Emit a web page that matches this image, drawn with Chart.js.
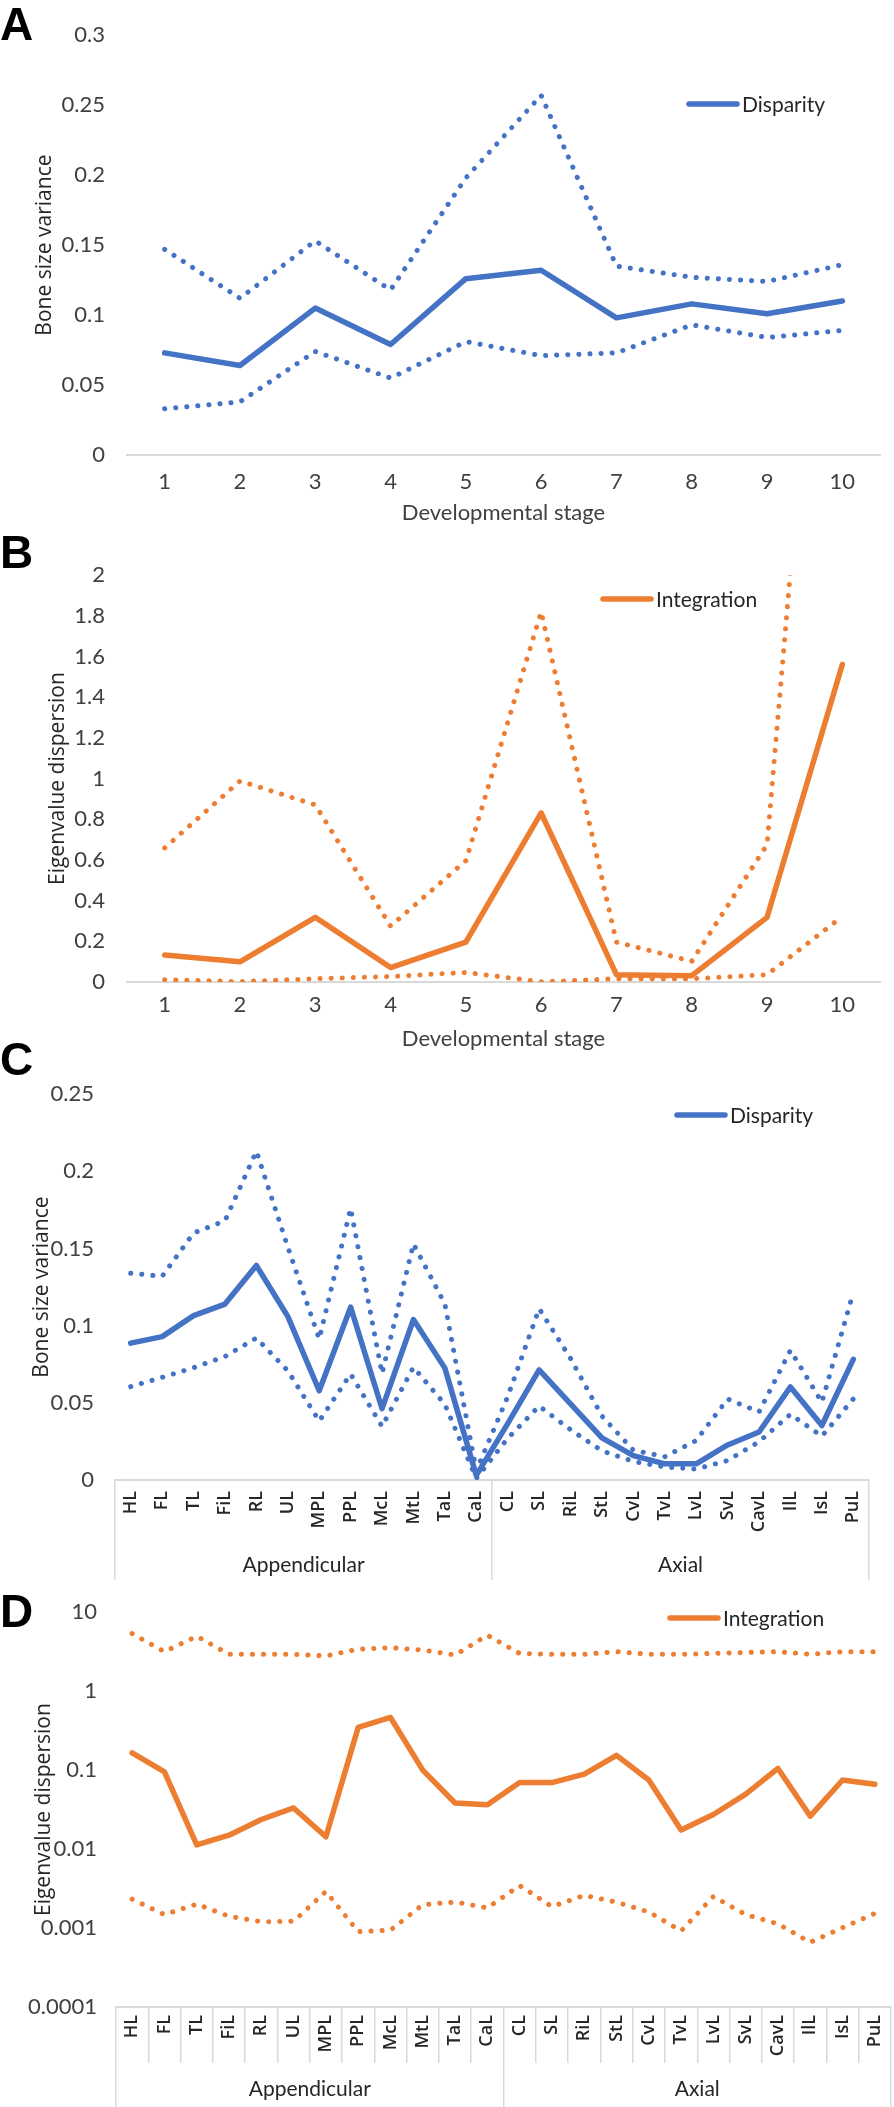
<!DOCTYPE html>
<html>
<head>
<meta charset="utf-8">
<title>Disparity and integration by stage and bone</title>
<script src="https://cdn.jsdelivr.net/npm/chart.js@4.4.1/dist/chart.umd.min.js"></script>
<style>
  body { margin: 0; background: #fff; }
  #page { position: relative; width: 894px; height: 2107px; overflow: hidden; }
  #page canvas { position: absolute; left: 0; }
  .panel {
    position: absolute; left: 0; z-index: 2;
    font-family: "Liberation Sans", Arial, sans-serif;
    font-weight: bold; font-size: 46px; line-height: 1; color: #000;
  }
</style>
</head>
<body>
<div id="page">
  <canvas id="chartA" width="894" height="540" style="top:0px"></canvas>
  <canvas id="chartB" width="894" height="520" style="top:540px"></canvas>
  <canvas id="chartC" width="894" height="520" style="top:1060px"></canvas>
  <canvas id="chartD" width="894" height="527" style="top:1580px"></canvas>
  <div class="panel" style="top:1px">A</div>
  <div class="panel" style="top:529px">B</div>
  <div class="panel" style="top:1036px">C</div>
  <div class="panel" style="top:1588px">D</div>
</div>
<script>
// --- data ---
const stages = ['1', '2', '3', '4', '5', '6', '7', '8', '9', '10'];

const stageDisparity = [0.073, 0.064, 0.105, 0.079, 0.126, 0.132, 0.098, 0.108, 0.101, 0.110];
const stageDisparityUpper = [0.147, 0.112, 0.153, 0.118, 0.198, 0.257, 0.135, 0.127, 0.124, 0.136];
const stageDisparityLower = [0.033, 0.038, 0.074, 0.055, 0.081, 0.071, 0.073, 0.093, 0.084, 0.089];

const stageIntegration = [0.133, 0.099, 0.318, 0.071, 0.196, 0.831, 0.036, 0.031, 0.318, 1.561];
const stageIntegrationUpper = [0.659, 0.988, 0.871, 0.275, 0.596, 1.82, 0.196, 0.102, 0.675, 5.0];
const stageIntegrationLower = [0.011, 0.002, 0.016, 0.027, 0.047, 0.001, 0.016, 0.016, 0.036, 0.322];

const bones = ['HL', 'FL', 'TL', 'FiL', 'RL', 'UL', 'MPL', 'PPL', 'McL', 'MtL', 'TaL', 'CaL',
               'CL', 'SL', 'RiL', 'StL', 'CvL', 'TvL', 'LvL', 'SvL', 'CavL', 'IlL', 'IsL', 'PuL'];
const boneGroups = ['Appendicular', 'Axial'];

const boneDisparity = [0.0887, 0.0929, 0.1065, 0.114, 0.139, 0.106, 0.0578, 0.112, 0.0462, 0.104, 0.0725, 0.003,
                       0.0365, 0.0714, 0.0494, 0.0273, 0.0158, 0.0105, 0.0105, 0.0227, 0.0311, 0.0603, 0.0353, 0.0782];
const boneDisparityUpper = [0.134, 0.132, 0.160, 0.168, 0.213, 0.151, 0.0914, 0.176, 0.069, 0.153, 0.114, 0.006,
                            0.054, 0.111, 0.0788, 0.0414, 0.0193, 0.0151, 0.0256, 0.0525, 0.0441, 0.084, 0.0504, 0.1215];
const boneDisparityLower = [0.0605, 0.0665, 0.0727, 0.080, 0.092, 0.0708, 0.0382, 0.0687, 0.0347, 0.0731, 0.049, 0.001,
                            0.027, 0.0479, 0.0326, 0.0189, 0.012, 0.0084, 0.0071, 0.0126, 0.0248, 0.0426, 0.0284, 0.0525];

const boneIntegration = [0.165, 0.095, 0.0113, 0.015, 0.0237, 0.0332, 0.0143, 0.348, 0.464, 0.100, 0.0383, 0.0365,
                         0.0695, 0.0695, 0.089, 0.154, 0.075, 0.0174, 0.0274, 0.0497, 0.105, 0.0261, 0.075, 0.0662];
const boneIntegrationUpper = [5.36, 3.16, 4.96, 2.93, 2.93, 2.93, 2.79, 3.41, 3.55, 3.32, 2.87, 5.11,
                              3.01, 2.93, 2.93, 3.16, 2.93, 2.93, 3.01, 3.09, 3.16, 2.93, 3.16, 3.16];
const boneIntegrationLower = [0.00232, 0.00148, 0.00201, 0.00141, 0.0012, 0.00122, 0.0029, 0.0009, 0.00094, 0.00198, 0.00213, 0.0018,
                              0.00345, 0.00187, 0.00259, 0.00213, 0.0016, 0.00092, 0.00251, 0.00148, 0.00113, 0.00066, 0.00101, 0.00153];

const logTicks = [0.0001, 0.001, 0.01, 0.1, 1, 10];

// --- look ---
const blue = '#4472C4';
const orange = '#ED7D31';
const axisGrey = '#D9D9D9';
const tickColor = '#404040';

Chart.defaults.font.family = 'Lato, sans-serif';
Chart.defaults.font.size = 20;
Chart.defaults.color = tickColor;

const numFont = { size: 22 };
const yTitleFont = { family: '"Open Sans", sans-serif', size: 21 };
const catFont = { family: '"Open Sans", sans-serif', size: 18, weight: '600' };

// draws the single legend entry (solid series only) inside the plot
const insideLegend = {
  id: 'insideLegend',
  afterDatasetsDraw(chart, args, opts) {
    const ds = chart.data.datasets[0];
    const ctx = chart.ctx;
    ctx.save();
    ctx.strokeStyle = ds.borderColor;
    ctx.lineWidth = ds.borderWidth;
    ctx.lineCap = 'round';
    ctx.beginPath();
    ctx.moveTo(opts.x, opts.y);
    ctx.lineTo(opts.x + 48, opts.y);
    ctx.stroke();
    ctx.font = '21px Lato, sans-serif';
    ctx.fillStyle = '#262626';
    ctx.textBaseline = 'middle';
    ctx.fillText(ds.label, opts.x + 53, opts.y + 1);
    ctx.restore();
  }
};

function series(label, color, main, upper, lower) {
  const dotted = {
    borderColor: color, borderWidth: 5, borderDash: [0.1, 11], borderCapStyle: 'round',
    pointRadius: 0, fill: false, tension: 0
  };
  return [
    { label: label, data: main, borderColor: color, borderWidth: 5.5, borderCapStyle: 'round',
      borderJoinStyle: 'round', pointRadius: 0, fill: false, tension: 0 },
    Object.assign({ label: label + ' upper', data: upper }, dotted),
    Object.assign({ label: label + ' lower', data: lower }, dotted)
  ];
}

const plainNum = v => String(+Number(v).toFixed(4));

function yAxis(min, max, step, title, width, pad, titlePad) {
  return {
    min: min, max: max,
    grid: { display: false, drawTicks: false },
    border: { display: false },
    ticks: { stepSize: step, padding: pad, callback: plainNum, color: tickColor, font: numFont },
    title: { display: true, text: title, font: yTitleFont, color: '#262626', padding: { top: titlePad, bottom: 0 } },
    afterFit: s => { s.width = width; }
  };
}

function stageXAxis(height, tickPad, titlePad) {
  return {
    offset: true,
    grid: { display: false, drawTicks: false },
    border: { color: axisGrey, width: 2 },
    ticks: { padding: tickPad, maxRotation: 0, autoSkip: false, color: tickColor, font: numFont },
    title: { display: true, text: 'Developmental stage', font: { size: 22 }, color: tickColor, padding: { top: 0, bottom: titlePad } },
    afterFit: s => { s.height = height; }
  };
}

function boneXAxes(height, tickPad, groupHeight, groupPad, everyLine) {
  return {
    x: {
      offset: true,
      grid: {
        display: true, drawOnChartArea: false, drawTicks: true, tickLength: height, offset: true, lineWidth: 1.5,
        color: ctx => (everyLine || ctx.type !== 'tick' || ctx.index % 12 === 0) ? axisGrey : 'rgba(0,0,0,0)'
      },
      border: { color: axisGrey, width: 2 },
      ticks: { autoSkip: false, minRotation: 90, maxRotation: 90, padding: tickPad, font: catFont, color: '#262626' },
      afterFit: s => { s.height = height; }
    },
    x2: {
      type: 'category', labels: boneGroups, offset: true, position: 'bottom', weight: 1,
      grid: { display: true, drawOnChartArea: false, drawTicks: true, tickLength: groupHeight, offset: true, lineWidth: 1.5, color: axisGrey },
      border: { display: false },
      ticks: { padding: groupPad, maxRotation: 0, autoSkip: false, color: '#262626', font: { size: 21 } },
      afterFit: s => { s.height = groupHeight; }
    }
  };
}

function makeChart(id, labels, datasets, padding, scales, legendAt) {
  return new Chart(document.getElementById(id), {
    type: 'line',
    data: { labels: labels, datasets: datasets },
    options: {
      responsive: false,
      animation: false,
      devicePixelRatio: 1,
      layout: { padding: padding },
      plugins: { legend: { display: false }, tooltip: { enabled: false }, insideLegend: legendAt },
      scales: scales
    },
    plugins: [insideLegend]
  });
}

// A
makeChart('chartA', stages,
  series('Disparity', blue, stageDisparity, stageDisparityUpper, stageDisparityLower),
  { left: 0, right: 14, top: 32, bottom: 0 },
  { x: stageXAxis(85, 14, 13.8), y: yAxis(0, 0.3, 0.05, 'Bone size variance', 127, 22, 32.4) },
  { x: 689, y: 104 });

// B
makeChart('chartB', stages,
  series('Integration', orange, stageIntegration, stageIntegrationUpper, stageIntegrationLower),
  { left: 0, right: 14, top: 17, bottom: 0 },
  { x: stageXAxis(78, 10, 7.8), y: yAxis(0, 2, 0.2, 'Eigenvalue dispersion', 127, 22, 45) },
  { x: 603, y: 59 });

// C
makeChart('chartC', bones,
  series('Disparity', blue, boneDisparity, boneDisparityUpper, boneDisparityLower),
  { left: 0, right: 25, top: 23, bottom: 0 },
  Object.assign(boneXAxes(60, -49, 40, -27, false),
    { y: yAxis(0, 0.25, 0.05, 'Bone size variance', 115, 21, 29) }),
  { x: 677, y: 55 });

// D
const dY = yAxis(0.0001, 10, null, 'Eigenvalue dispersion', 116, 19, 31);
dY.type = 'logarithmic';
dY.afterBuildTicks = s => { s.ticks = logTicks.map(v => ({ value: v })); };
dY.ticks.callback = v => String(v);
makeChart('chartD', bones,
  series('Integration', orange, boneIntegration, boneIntegrationUpper, boneIntegrationLower),
  { left: 0, right: 3, top: 27, bottom: 0 },
  Object.assign(boneXAxes(56, -48, 44, -30, true), { y: dY }),
  { x: 670, y: 38 });
</script>
</body>
</html>
